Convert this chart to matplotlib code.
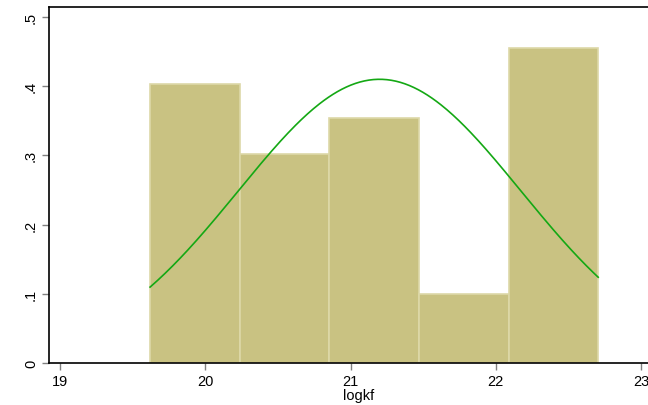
import numpy as np
import matplotlib.pyplot as plt

plt.rcParams['font.family'] = ['Liberation Sans', 'DejaVu Sans']

# histogram of logkf (density scale)
bin_edges = [19.62, 20.237, 20.854, 21.471, 22.088, 22.705]
densities = [0.403, 0.302, 0.354, 0.100, 0.455]

# fitted normal overlay
mu, sigma = 21.20, 0.973

xticks = [19, 20, 21, 22, 23]
yticks = [0, 0.1, 0.2, 0.3, 0.4, 0.5]
ylabels = ['0', '.1', '.2', '.3', '.4', '.5']

fig = plt.figure(figsize=(6.48, 4.06), dpi=100)
# frame runs past the right edge of the image
ax = fig.add_axes([49 / 648, 1 - 364 / 406, 620 / 648, 356 / 406])

widths = np.diff(bin_edges)
ax.bar(bin_edges[:-1], densities, width=widths, align='edge',
       color='#c9c282', edgecolor='#ddd8a8', linewidth=1.2, zorder=2)

xs = np.linspace(bin_edges[0], bin_edges[-1], 300)
pdf = np.exp(-0.5 * ((xs - mu) / sigma) ** 2) / (sigma * np.sqrt(2 * np.pi))
ax.plot(xs, pdf, color='#14a814', linewidth=1.2, zorder=3)

ax.set_xlim(18.924, 18.924 + 620 / 145.25)
ax.set_ylim(0, 0.5145)
ax.set_xticks(xticks)
ax.set_yticks(yticks)
ax.set_yticklabels(ylabels, rotation=90, va='center')
ax.tick_params(axis='both', length=5, width=1, color='#808080',
               labelsize=10.5, pad=3)
for s in ax.spines.values():
    s.set_linewidth(1.2)
ax.set_xlabel('logkf', fontsize=10.5, labelpad=0)

fig.savefig('out.png', dpi=100)
